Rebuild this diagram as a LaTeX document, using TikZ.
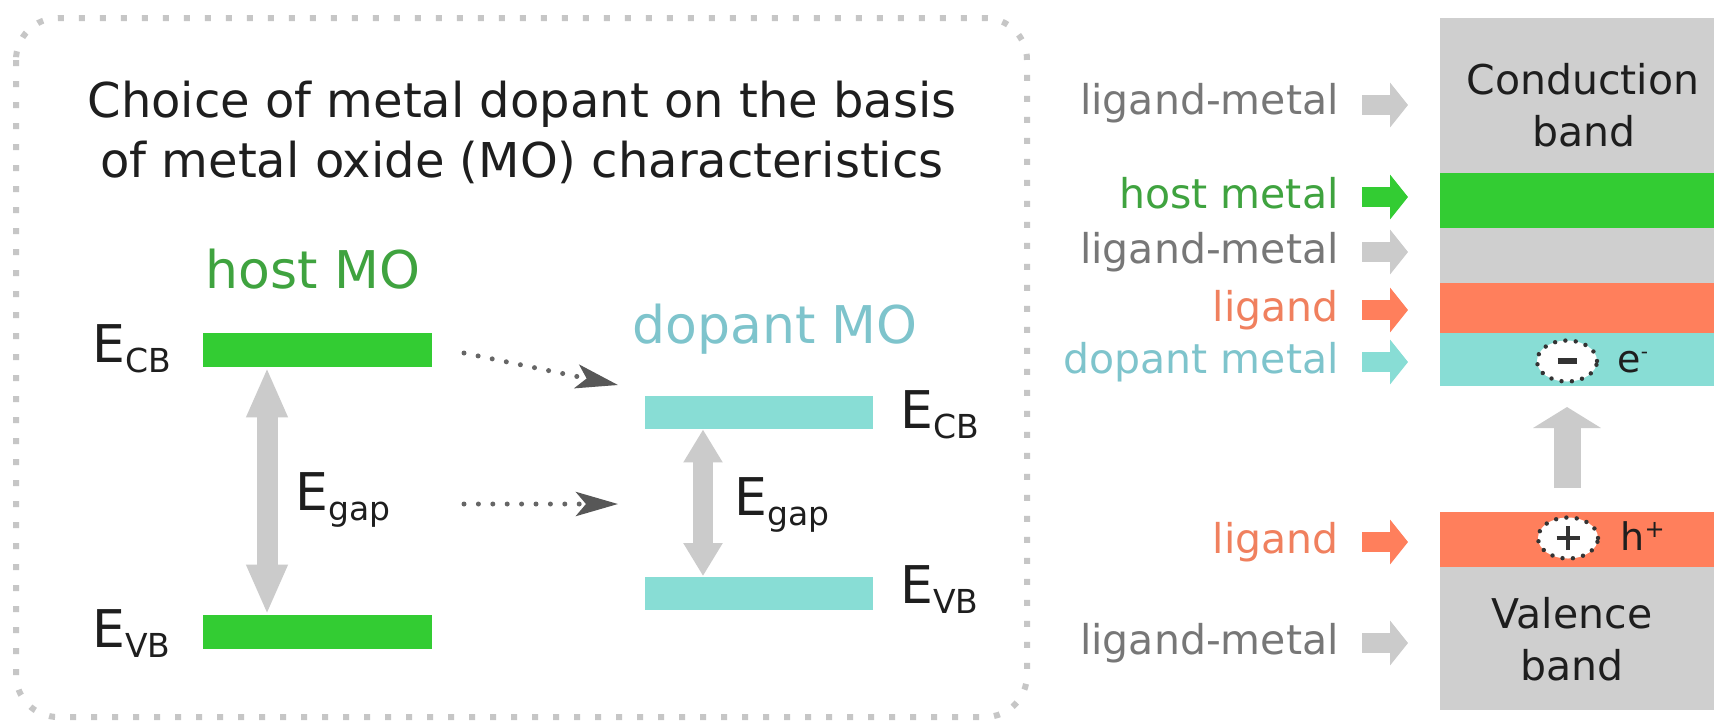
\documentclass[tikz,border=0pt]{standalone}
\usepackage{fontspec}
\setmainfont{DejaVu Sans}
\usetikzlibrary{arrows.meta,shapes.geometric,calc}
\definecolor{barGreen}{HTML}{33CC33}
\definecolor{txtGreen}{HTML}{3FA33F}
\definecolor{barCyan}{HTML}{88DDD5}
\definecolor{txtCyan}{HTML}{7EC4CC}
\definecolor{barOrange}{HTML}{FF7F5C}
\definecolor{txtOrange}{HTML}{F0805E}
\definecolor{bandGray}{HTML}{CFCFCF}
\definecolor{arrGray}{HTML}{CBCBCB}
\definecolor{txtGray}{HTML}{777777}
\definecolor{txtDark}{HTML}{1E1E1E}
\definecolor{frameGray}{HTML}{C6C6C6}
\definecolor{dotGray}{HTML}{666666}
\newcommand\Esub[1]{E\raisebox{-5pt}{\fontsize{16.5pt}{16.5pt}\selectfont #1}}
\tikzset{
  titletxt/.style={font=\fontsize{24pt}{28pt}\selectfont, text=txtDark, inner sep=0pt},
  motxt/.style={font=\fontsize{26pt}{30pt}\selectfont, inner sep=0pt},
  elab/.style={font=\fontsize{26pt}{30pt}\selectfont, text=txtDark, inner sep=0pt},
  rlab/.style={font=\fontsize{20.5pt}{24pt}\selectfont, inner sep=0pt, anchor=base east},
  bandtxt/.style={font=\fontsize{20.5pt}{24pt}\selectfont, text=txtDark, inner sep=0pt, anchor=base},
  ehtxt/.style={font=\fontsize{19pt}{22pt}\selectfont, text=txtDark, inner sep=0pt, anchor=base west},
  hbar/.style={rectangle, fill=barGreen, draw=none, inner sep=0pt, minimum width=114.5pt, minimum height=17pt},
  dbar/.style={rectangle, fill=barCyan, draw=none, inner sep=0pt, minimum width=114pt, minimum height=16.5pt},
  gaphost/.style={draw=arrGray, line width=10.5pt, {Triangle[length=25pt,width=19pt]}-{Triangle[length=25pt,width=19pt]}},
  gapdop/.style={draw=arrGray, line width=10pt, {Triangle[length=16.5pt,width=18.5pt]}-{Triangle[length=16.5pt,width=18.5pt]}},
  dotarrow/.style={draw=dotGray, line width=2.5pt, line cap=round, dash pattern=on 0pt off 7.2pt,
    -{Stealth[length=21pt,width=12pt,inset=5pt,color=dotGray!85!black]}},
  frame/.style={draw=frameGray, line width=3pt, dash pattern=on 3pt off 7.5pt, rounded corners=21pt},
  barrow/.style={line width=10pt, -{Triangle[length=9pt,width=22pt]}},
  charge/.style={ellipse, draw=black!80, fill=white, line width=2.2pt, line cap=round, dash pattern=on 0pt off 5.2pt,
    minimum width=30pt, minimum height=20.5pt, inner sep=0pt},
}
\begin{document}
\begin{tikzpicture}[x=0.5pt,y=-0.5pt]
\useasboundingbox (0,0) rectangle (1714,720);
\fill[white] (0,0) rectangle (1714,720);
% ---------------- left panel ----------------
\draw[frame] (16,18) rectangle (1027,717);
\node[titletxt, anchor=base] (title1) at (522,117) {Choice of metal dopant on the basis};
\node[titletxt, anchor=base] (title2) at (522,177) {of metal oxide (MO) characteristics};

\node[motxt, text=txtGreen, anchor=base] (hostmo) at (313,288) {host MO};
\node[hbar] (hcb) at (317.5,350) {};
\node[hbar] (hvb) at (317.5,632) {};
\node[elab, anchor=base west] (hcbl) at (92,362) {\Esub{CB}};
\node[elab, anchor=base west] (hvbl) at (92,647) {\Esub{VB}};
\draw[gaphost] ([xshift=-25.25pt]hcb.south) -- ([xshift=-25.25pt]hvb.north);
\node[elab, anchor=base west] (hgap) at (295,510) {\Esub{gap}};

\node[motxt, text=txtCyan, anchor=base] (dopmo) at (775,343) {dopant MO};
\node[dbar] (dcb) at (759,412.5) {};
\node[dbar] (dvb) at (759,593) {};
\node[elab, anchor=base west] (dcbl) at (900,428) {\Esub{CB}};
\node[elab, anchor=base west] (dvbl) at (900,603) {\Esub{VB}};
\draw[gapdop] ([xshift=-28pt]dcb.south) -- ([xshift=-28pt]dvb.north);
\node[elab, anchor=base west] (dgap) at (734,515) {\Esub{gap}};

\coordinate (da1s) at (464,353);
\coordinate (da1e) at (618,385);
\coordinate (da2s) at (464,504);
\coordinate (da2e) at (618,504);
\draw[dotarrow] (da1s) -- (da1e);
\draw[dotarrow] (da2s) -- (da2e);

% ---------------- right panel ----------------
\fill[bandGray] (1440,18) rectangle (1714,173);
\fill[barGreen] (1440,173) rectangle (1714,228);
\fill[bandGray] (1440,228) rectangle (1714,283);
\fill[barOrange] (1440,283) rectangle (1714,333);
\fill[barCyan] (1440,333) rectangle (1714,386);
\fill[barOrange] (1440,512) rectangle (1714,567);
\fill[bandGray] (1440,567) rectangle (1714,710);

\node[bandtxt] (cb1) at (1583,94) {Conduction};
\node[bandtxt] (cb2) at (1584,146) {band};
\node[bandtxt] (vb1) at (1572,628) {Valence};
\node[bandtxt] (vb2) at (1572,680) {band};

\node[rlab, text=txtGray] (l1) at (1339,114) {ligand-metal};
\node[rlab, text=txtGreen] (l2) at (1339,208) {host metal};
\node[rlab, text=txtGray] (l3) at (1339,263) {ligand-metal};
\node[rlab, text=txtOrange] (l4) at (1339,321) {ligand};
\node[rlab, text=txtCyan] (l5) at (1339,373) {dopant metal};
\node[rlab, text=txtOrange] (l6) at (1339,553) {ligand};
\node[rlab, text=txtGray] (l7) at (1339,654) {ligand-metal};

\draw[barrow, arrGray] ([shift={(23,-9)}]l1.base east) -- ++(46,0);
\draw[barrow, barGreen] ([shift={(23,-11)}]l2.base east) -- ++(46,0);
\draw[barrow, arrGray] ([shift={(23,-11)}]l3.base east) -- ++(46,0);
\draw[barrow, barOrange] ([shift={(23,-11)}]l4.base east) -- ++(46,0);
\draw[barrow, barCyan] ([shift={(23,-11)}]l5.base east) -- ++(46,0);
\draw[barrow, barOrange] ([shift={(23,-11)}]l6.base east) -- ++(46,0);
\draw[barrow, arrGray] ([shift={(23,-11)}]l7.base east) -- ++(46,0);

\node[charge] (em) at (1567,361) {};
\draw[line width=3pt, black!80] ([xshift=-4.75pt]em.center) -- ([xshift=4.75pt]em.center);
\node[ehtxt] (etx) at (1617,372) {e\raisebox{7pt}{\fontsize{10pt}{10pt}\selectfont -}};
\node[charge] (hp) at (1568,538) {};
\draw[line width=1.8pt, black!80] ([xshift=-5.75pt]hp.center) -- ([xshift=5.75pt]hp.center);
\draw[line width=1.8pt, black!80] ([yshift=-6pt]hp.center) -- ([yshift=6pt]hp.center);
\node[ehtxt] (htx) at (1620,550) {h\raisebox{6.5pt}{\fontsize{12pt}{12pt}\selectfont +}};

\coordinate (exb) at (1567,488);
\coordinate (ext) at (1567,407);
\draw[arrGray, line width=13.5pt, -{Triangle[length=10.5pt,width=33.5pt]}] (exb) -- (ext);
\end{tikzpicture}
\end{document}
